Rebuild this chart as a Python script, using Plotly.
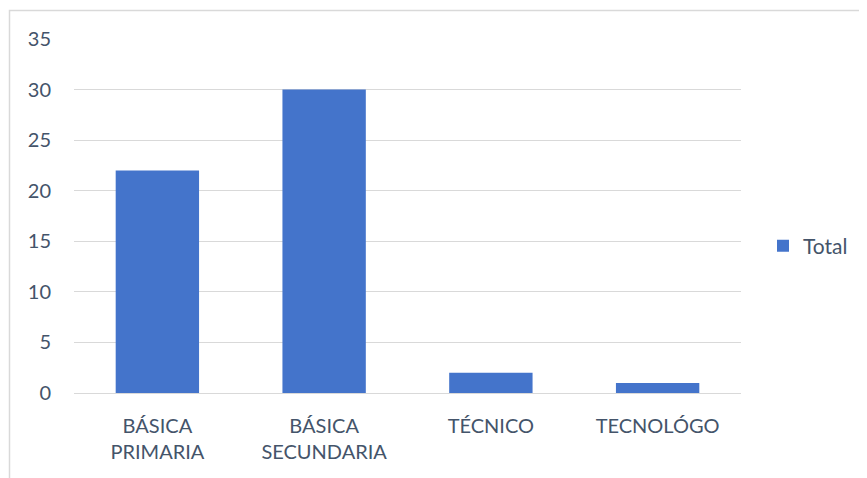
import plotly.graph_objects as go

categories = ["BÁSICA<br>PRIMARIA", "BÁSICA<br>SECUNDARIA", "TÉCNICO", "TECNOLÓGO"]
values = [22, 30, 2, 1]
series_name = "Total"
tick_vals = [0, 5, 10, 15, 20, 25, 30, 35]

OFF = 8  # page body offset
W, H = 867, 478
L, T = 74 - OFF, 39 - OFF
pw, ph = 667, 354
R, B = W - L - pw, H - T - ph

def px_x(p):
    return (p - OFF - L) / pw

def px_y(p):
    return (T + ph - (p - OFF)) / ph

fig = go.Figure()
fig.add_trace(go.Bar(
    x=categories, y=values, name=series_name,
    marker=dict(color="#4474CB", line=dict(width=0)),
    width=0.5, showlegend=True,
))

txt = "#44546A"
fig.update_layout(
    width=W, height=H,
    margin=dict(l=L, r=R, t=T, b=B),
    plot_bgcolor="white", paper_bgcolor="white",
    font=dict(family="Lato, Open Sans, sans-serif", size=20, color=txt),
    showlegend=True,
    legend=dict(x=px_x(763), y=px_y(246), xanchor="left", yanchor="middle",
                font=dict(size=21, color=txt), bgcolor="rgba(0,0,0,0)", itemwidth=30),
    xaxis=dict(showgrid=False, showline=False, ticks="", tickfont=dict(size=20),
               ticklabelstandoff=19),
    yaxis=dict(range=[0, 35], tickvals=tick_vals, showgrid=True, gridcolor="#D9D9D9",
               gridwidth=1, zeroline=True, zerolinecolor="#D9D9D9", zerolinewidth=1,
               showline=False, ticks="", ticklabelstandoff=22, tickfont=dict(size=20)),
    shapes=[dict(type="rect", xref="paper", yref="paper",
                 x0=px_x(9.5), x1=px_x(900), y0=px_y(520), y1=px_y(10.5),
                 line=dict(color="#D9D9D9", width=1.5), fillcolor="rgba(0,0,0,0)", layer="below")],
)

fig.write_html("out.html")
